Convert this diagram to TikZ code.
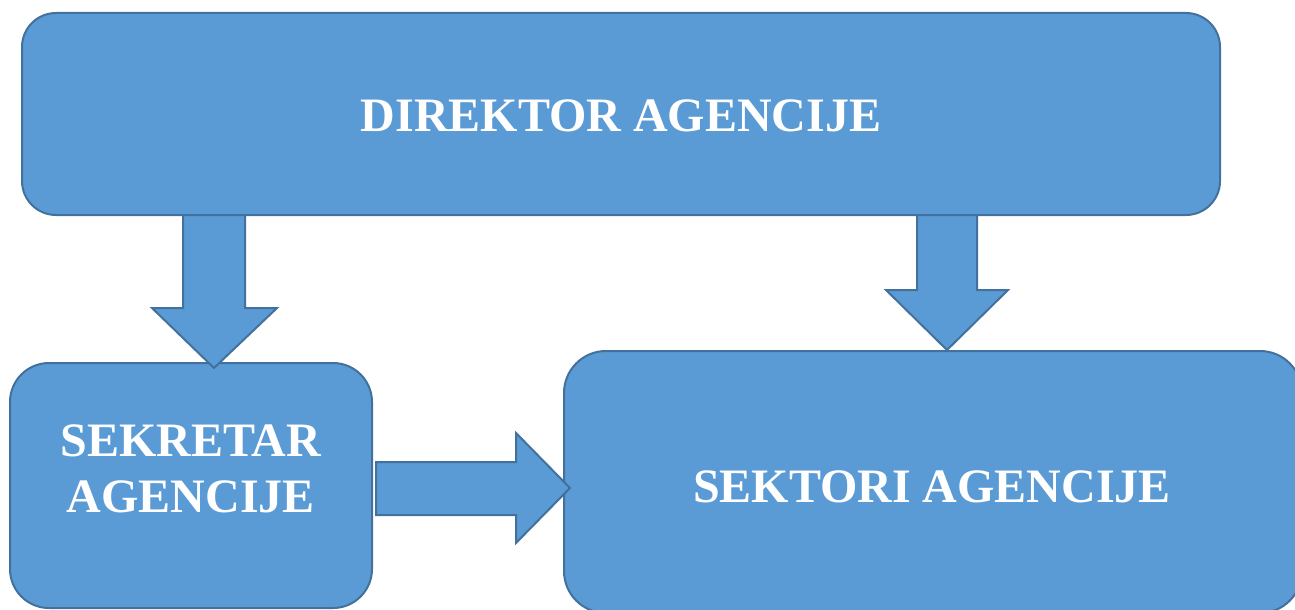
\documentclass[tikz,border=0pt]{standalone}
\usepackage{fontspec}
\setmainfont{Liberation Serif}
\usetikzlibrary{calc}

\definecolor{boxblue}{HTML}{5B9BD5}
\definecolor{boxedge}{HTML}{41719C}

\begin{document}
\begin{tikzpicture}[x=1pt,y=-1pt,
    box/.style={draw=boxedge, fill=boxblue, line width=2pt, rounded corners=34pt, inner sep=0pt, outer sep=0pt},
    title/.style={text=white, font=\fontsize{48}{56}\selectfont\bfseries, align=center, inner sep=0pt},
    blockarrow/.style={draw=boxedge, fill=boxblue, line width=2pt, line join=miter}]
    \useasboundingbox (0,0) rectangle (1295,610);
    \clip (0,0) rectangle (1295,610);

    % the three boxes
    \node[box, minimum width=1198pt, minimum height=202pt] (direktor) at (621,114) {};
    \node[box, rounded corners=39pt, minimum width=362pt, minimum height=245pt] (sekretar) at (191,485.5) {};
    \node[box, rounded corners=42pt, minimum width=738pt, minimum height=262pt] (sektori) at (933,482) {};

    \node[title] (direktor-text) at (621,116) {DIREKTOR AGENCIJE};
    \node[title] (sekretar-text) at (191,468.5) {SEKRETAR\\AGENCIJE};
    \node[title] (sektori-text) at (932,486.5) {SEKTORI AGENCIJE};

    % block arrows
    \coordinate (leftx) at (214,0);
    \coordinate (rightx) at (947,0);
    \coordinate (midy) at (0,488);

    % direktor -> sekretar
    \draw[blockarrow] ($(direktor.south -| leftx)+(-31,0)$) -- ++(0,93) -- ++(-31,0)
        -- ($(sekretar.north -| leftx)+(0,5)$) -- ++(63,-60) -- ++(-32,0) -- ++(0,-93) -- cycle;
    % direktor -> sektori
    \draw[blockarrow] ($(direktor.south -| rightx)+(-30,0)$) -- ++(0,75) -- ++(-31,0)
        -- ($(sektori.north -| rightx)+(0,-1)$) -- ++(61,-60) -- ++(-31,0) -- ++(0,-75) -- cycle;
    % sekretar -> sektori
    \draw[blockarrow] ($(sekretar.east |- midy)+(4,-26)$) -- ++(140,0) -- ++(0,-29)
        -- ($(sektori.west |- midy)+(6,0)$) -- ++(-54,55) -- ++(0,-28) -- ++(-140,0) -- cycle;
\end{tikzpicture}
\end{document}
